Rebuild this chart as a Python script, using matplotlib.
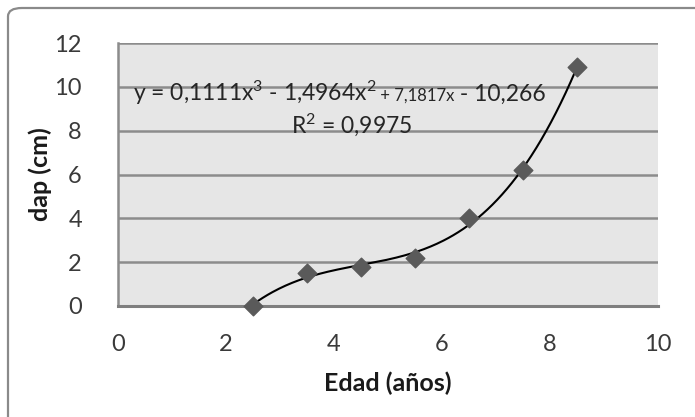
import numpy as np
import matplotlib.pyplot as plt
from matplotlib.patches import FancyBboxPatch
from matplotlib.offsetbox import TextArea, HPacker, AnnotationBbox

plt.rcParams['font.family'] = ['Lato', 'DejaVu Sans']
plt.rcParams['mathtext.fontset'] = 'custom'
plt.rcParams['mathtext.rm'] = 'Lato'
plt.rcParams['mathtext.it'] = 'Lato'

# ── Data ──────────────────────────────────────────────────────────────────────
edad = [2.5, 3.5, 4.5, 5.5, 6.5, 7.5, 8.5]
dap = [0.0, 1.5, 1.8, 2.2, 4.0, 6.2, 10.9]
coefs = [0.1111, -1.4964, 7.1817, -10.266]   # cubic trendline shown on chart
x_ticks = [0, 2, 4, 6, 8, 10]
y_ticks = [0, 2, 4, 6, 8, 10, 12]

W, H = 695, 417
fig = plt.figure(figsize=(W / 100, H / 100), dpi=100)
fig.patch.set_facecolor('white')

# chart border (rounded, cut off on right and bottom)
border = FancyBboxPatch((8 / W, -0.2), 1.2, (H - 8) / H + 0.2,
                        boxstyle="round,pad=0,rounding_size=0.02",
                        transform=fig.transFigure, facecolor='none',
                        edgecolor='#8a8a8a', linewidth=1.6, zorder=0)
fig.patches.append(border)

ax = fig.add_axes([118 / W, 1 - 306 / H, 540 / W, 263 / H])
ax.set_facecolor('#e6e6e6')

ax.set_xlim(0, 10)
ax.set_ylim(0, 12)
ax.set_xticks(x_ticks)
ax.set_yticks(y_ticks)
ax.tick_params(length=0, labelsize=17, labelcolor='#3a3a3a')
ax.tick_params(axis='x', pad=20)
ax.tick_params(axis='y', pad=26)
ax.grid(axis='y', color='#8c8c8c', linewidth=1.8)
ax.set_axisbelow(True)
for s in ['top', 'right']:
    ax.spines[s].set_visible(False)
ax.spines['left'].set_color('#8c8c8c')
ax.spines['left'].set_linewidth(1.8)
ax.spines['bottom'].set_color('#7f7f7f')
ax.spines['bottom'].set_linewidth(2.2)

# trendline
xs = np.linspace(min(edad), max(edad), 200)
ax.plot(xs, np.polyval(coefs, xs), color='black', linewidth=1.5, zorder=3)

# data points
ax.scatter(edad, dap, marker='D', s=90, color='#5a5a5a', zorder=4, clip_on=False)

ax.set_xlabel('Edad (años)', fontsize=18, fontweight='bold', color='#1a1a1a', labelpad=12)
ax.set_ylabel('dap (cm)', fontsize=18, fontweight='bold', color='#1a1a1a', labelpad=2)

# trendline equation, with the smaller middle term as in the original
tcol = '#262626'
parts = [TextArea("y = 0,1111x$^3$ - 1,4964x$^2$", textprops=dict(size=16.5, color=tcol)),
         TextArea(" + 7,1817x", textprops=dict(size=12, color=tcol)),
         TextArea(" - 10,266", textprops=dict(size=16.5, color=tcol))]
eq = HPacker(children=parts, align='baseline', pad=0, sep=0)
ab = AnnotationBbox(eq, (0.41, 0.81), xycoords='axes fraction',
                    frameon=False, box_alignment=(0.5, 0.5))
ax.add_artist(ab)
ax.text(0.433, 0.69, "R$^2$ = 0,9975", transform=ax.transAxes, fontsize=16.5,
        color=tcol, ha='center', va='center')

fig.savefig('out.png', dpi=100)
